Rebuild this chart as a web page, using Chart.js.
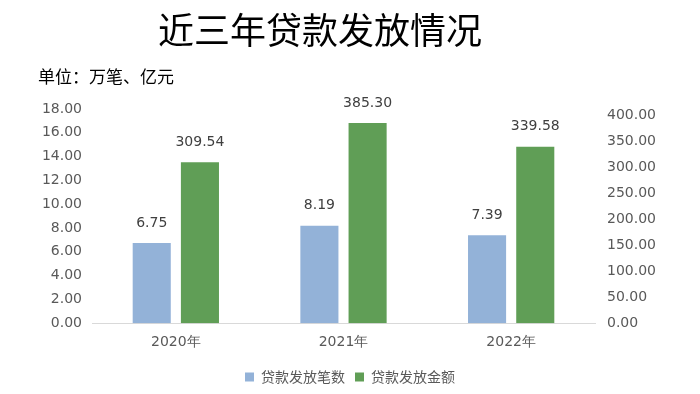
<!DOCTYPE html>
<html>
<head>
<meta charset="utf-8">
<script src="https://cdn.jsdelivr.net/npm/chart.js@4/dist/chart.umd.min.js"></script>
<style>
  body { margin: 0; background: #fff; }
  #wrap { position: relative; width: 700px; height: 394px; }
  #title { position: absolute; left: 0; top: 2px; width: 640px; text-align: center;
    font-family: "Noto Sans CJK SC", serif; font-size: 36px; color: #000; }
  #unit { position: absolute; left: 38px; top: 63px; font-family: "Noto Sans CJK SC";
    font-size: 17px; color: #000; }
</style>
</head>
<body>
<div id="wrap">
  <canvas id="myChart" width="700" height="394"></canvas>
  <div id="title">近三年贷款发放情况</div>
  <div id="unit">单位：万笔、亿元</div>
</div>
<script>
const categories = ["2020年", "2021年", "2022年"];
const countValues = [6.75, 8.19, 7.39];
const amountValues = [309.54, 385.30, 339.58];
const seriesNames = ["贷款发放笔数", "贷款发放金额"];
const leftTicks = [0, 2, 4, 6, 8, 10, 12, 14, 16, 18];
const rightTicks = [0, 50, 100, 150, 200, 250, 300, 350, 400];

const tickFont = { family: "DejaVu Sans", size: 14 };

const valueLabels = {
    id: "valueLabels",
    afterDatasetsDraw(chart) {
        const ctx = chart.ctx;
        ctx.save();
        ctx.font = "14px 'DejaVu Sans'";
        ctx.fillStyle = "#404040";
        ctx.textAlign = "center";
        ctx.textBaseline = "middle";
        chart.data.datasets.forEach((ds, i) => {
            chart.getDatasetMeta(i).data.forEach((bar, j) => {
                ctx.fillText(ds.data[j].toFixed(2), bar.x, bar.y - 20);
            });
        });
        ctx.restore();
    }
};

let ctx = document.getElementById("myChart").getContext("2d");
let myChart = new Chart(ctx, {
    type: "bar",
    data: {
        labels: categories,
        datasets: [{
            label: seriesNames[0],
            data: countValues,
            backgroundColor: "#93B2D8",
            yAxisID: "y",
            categoryPercentage: 0.575,
            barPercentage: 0.79
        }, {
            label: seriesNames[1],
            data: amountValues,
            backgroundColor: "#609E56",
            yAxisID: "y1",
            categoryPercentage: 0.575,
            barPercentage: 0.79
        }]
    },
    options: {
        responsive: false,
        animation: false,
        layout: { padding: { top: 109, bottom: 0 } },
        plugins: {
            legend: {
                position: "bottom",
                labels: {
                    boxWidth: 9, boxHeight: 9, padding: 10,
                    color: "#595959",
                    font: { family: "Noto Sans CJK SC", size: 14 }
                }
            },
            tooltip: { enabled: false }
        },
        scales: {
            x: {
                grid: { display: false },
                border: { color: "#d9d9d9" },
                ticks: { color: "#595959", font: tickFont, padding: 3 },
                afterFit: s => { s.height += 6; }
            },
            y: {
                position: "left",
                min: 0, max: 18,
                grid: { display: false, drawTicks: false },
                border: { display: false },
                ticks: {
                    padding: 10, color: "#595959", font: tickFont,
                    callback: v => v.toFixed(2)
                },
                afterBuildTicks: s => { s.ticks = leftTicks.map(v => ({ value: v })); },
                afterFit: s => { s.width = 92; }
            },
            y1: {
                position: "right",
                min: 0, max: 412,
                grid: { display: false, drawTicks: false },
                border: { display: false },
                ticks: {
                    padding: 12, color: "#595959", font: tickFont,
                    callback: v => v.toFixed(2)
                },
                afterBuildTicks: s => { s.ticks = rightTicks.map(v => ({ value: v })); },
                afterFit: s => { s.width = 105; }
            }
        }
    },
    plugins: [valueLabels]
});
</script>
</body>
</html>
